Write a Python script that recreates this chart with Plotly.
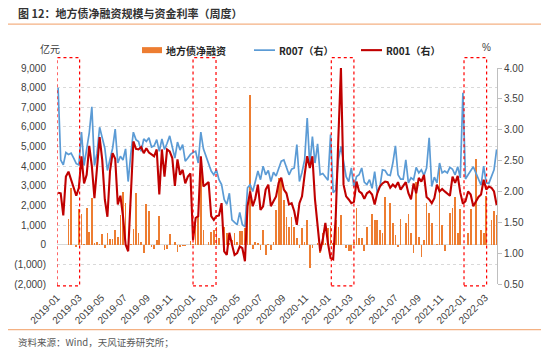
import pandas as pd
import plotly.graph_objects as go

# ---------------- data ----------------
start_date = "2019-01-04"   # weekly observations

net_financing = [  # 地方债净融资, 亿元
    0, 0, 0, 0, 1290, 2870, 0, -100, 1800, 1560,
    30, 1850, 660, 2360, 70, 150, 20, 540, -190, 580,
    300, 290, 750, 410, 1510, 2700, 2140, -70, 20, 780,
    2610, 610, 150, -400, 2070, 1730, -100, -200, 240, 1460,
    0, -270, -240, 540, -30, 150, -360, -100, -70, -70,
    -30, 200, 30, 1260, 1430, 4300, 750, 0, 150, 660,
    750, 900, 330, 0, 920, 610, 70, 240, 580, 150,
    680, 720, 830, 2200, 7600, -240, 150, 70, -270, 750,
    -530, 20, -270, 150, 1770, 3380, 3380, 2290, 1430, 920,
    1430, 920, 320, -190, 830, 150, 1260, -1210, -190, 0,
    100, -440, 580, 70, 830, 950, 100, 1260, 920, 1510,
    0, -190, -300, -300, 150, 1850, 320, 320, -300, 920,
    0, 1560, 1260, 1260, 750, 580, 2420, 0, 2100, 1090,
    490, -100, 1290, 0, 1090, 1560, 580, -440, 3210, 400,
    -650, 240, 2140, 1630, 1090, 0, 60, 3890, 1000, -300,
    0, 1600, 1850, 2440, 580, 1800, 0, 0, 580, 1800,
    0, 4350, 0, 750, 600, 2480, 0, 1250, 1700, 1500,
]

r007 = [  # %
    3.68, 2.51, 2.43, 2.63, 2.60, 2.62, 2.54, 2.45, 2.43, 2.96,
    2.42, 2.68, 2.95, 3.37, 2.42, 2.62, 3.04, 2.87, 2.70, 2.34,
    2.54, 2.70, 3.01, 2.46, 2.57, 2.51, 2.69, 2.16, 2.60, 2.96,
    2.84, 2.81, 2.65, 2.85, 2.81, 2.87, 2.72, 2.74, 2.84, 2.65,
    2.85, 2.68, 2.78, 2.90, 2.72, 2.54, 2.80, 2.67, 2.76, 2.49,
    2.54, 2.60, 2.63, 2.65, 2.46, 2.96, 2.69, 2.57, 2.46, 2.33,
    2.27, 2.35, 2.19, 2.11, 1.87, 1.79, 1.97, 1.54, 1.50, 1.46,
    1.66, 1.46, 1.43, 2.06, 2.11, 2.00, 2.16, 2.33, 2.19, 2.41,
    2.27, 2.34, 2.16, 2.31, 2.25, 2.38, 2.49, 2.51, 2.38, 2.27,
    2.36, 2.38, 2.76, 2.16, 2.31, 2.51, 3.19, 2.41, 2.89, 2.46,
    2.77, 2.27, 2.29, 2.24, 2.18, 2.92, 1.98, 2.02, 2.51, 2.73,
    2.51, 2.24, 2.16, 2.38, 2.07, 2.24, 2.27, 2.38, 2.15, 2.11,
    2.19, 2.05, 2.32, 1.98, 2.07, 2.35, 2.34, 2.27, 2.26, 2.46,
    2.74, 2.27, 2.20, 2.20, 2.51, 2.14, 2.22, 2.19, 2.39, 2.30,
    2.35, 2.26, 2.38, 2.87, 2.08, 2.23, 2.14, 2.46, 2.30, 2.33,
    2.30, 2.39, 2.36, 2.27, 2.40, 2.22, 3.60, 2.20, 2.27, 2.33,
    2.40, 2.30, 2.19, 2.10, 2.41, 2.14, 2.13, 2.25, 2.35, 2.68,
]

r001 = [  # %
    1.98, 1.97, 1.61, 2.24, 2.32, 2.19, 2.08, 1.93, 2.06, 2.57,
    2.13, 2.27, 2.74, 2.41, 1.89, 2.43, 2.88, 2.51, 1.87, 1.59,
    2.33, 2.62, 2.53, 1.79, 1.93, 1.60, 1.14, 1.03, 1.87, 2.81,
    2.69, 2.68, 2.72, 2.62, 2.70, 2.63, 2.60, 2.57, 2.68, 1.95,
    2.68, 2.24, 2.68, 2.65, 2.54, 2.09, 2.52, 2.27, 2.35, 2.13,
    2.24, 2.29, 1.21, 1.57, 1.60, 2.57, 2.08, 2.11, 2.15, 1.60,
    1.54, 1.60, 1.61, 1.81, 1.03, 0.97, 1.33, 1.14, 0.97, 1.00,
    1.11, 1.08, 0.87, 1.76, 2.00, 1.76, 1.89, 2.11, 1.70, 1.76,
    2.03, 2.11, 1.76, 1.84, 1.92, 2.14, 2.22, 2.03, 1.97, 1.79,
    1.81, 1.68, 1.46, 1.81, 1.92, 2.27, 2.57, 2.38, 2.57, 1.87,
    1.43, 1.03, 1.22, 1.49, 1.16, 0.92, 0.90, 1.59, 2.86, 4.00,
    2.11, 1.92, 1.87, 1.81, 1.83, 2.16, 2.00, 1.97, 1.88, 1.97,
    2.00, 1.95, 1.79, 1.97, 2.08, 2.13, 2.16, 2.15, 2.06, 2.11,
    2.07, 2.15, 2.03, 2.09, 2.15, 1.97, 1.87, 2.13, 1.97, 2.22,
    2.16, 2.27, 1.91, 1.87, 1.81, 1.89, 2.11, 2.00, 2.04, 2.00,
    1.97, 1.93, 2.24, 2.14, 2.25, 1.98, 1.80, 1.84, 2.00, 1.95,
    1.76, 1.84, 1.91, 1.95, 2.19, 2.03, 2.08, 2.06, 2.00, 1.78,
]

x_tick_dates = [
    "2019-01-01", "2019-03-01", "2019-05-01", "2019-07-01", "2019-09-01", "2019-11-01",
    "2020-01-01", "2020-03-01", "2020-05-01", "2020-07-01", "2020-09-01", "2020-11-01",
    "2021-01-01", "2021-03-01", "2021-05-01", "2021-07-01", "2021-09-01", "2021-11-01",
    "2022-01-01", "2022-03-01",
]
x_tick_labels = [d[:7] for d in x_tick_dates]

left_ticks = [-2000, -1000, 0, 1000, 2000, 3000, 4000, 5000, 6000, 7000, 8000, 9000]
left_labels = ["(2,000)", "(1,000)", "0", "1,000", "2,000", "3,000", "4,000",
               "5,000", "6,000", "7,000", "8,000", "9,000"]
right_ticks = [0.5, 1.0, 1.5, 2.0, 2.5, 3.0, 3.5, 4.0]

highlight_periods = [
    ("2019-01-01", "2019-03-03"),
    ("2020-01-03", "2020-03-05"),
    ("2021-01-10", "2021-03-12"),
    ("2022-01-03", "2022-03-05"),
]

# ---------------- figure ----------------
dates = pd.date_range(start_date, periods=len(net_financing), freq="7D")

W, H = 550, 355
L, R, T, B = 57, 497, 68.3, 283.6
PW, PH = R - L, B - T


def px(x):
    return (x - L) / PW


def py(y):
    return (B - y) / PH


FONT = "Liberation Sans, Arial, Noto Sans CJK SC, sans-serif"
CJK = "Noto Sans CJK SC, Liberation Sans, sans-serif"
TXT = "#404040"

fig = go.Figure()
fig.add_trace(go.Bar(
    x=dates, y=net_financing, name="地方债净融资",
    marker=dict(color="#ED7D31", line=dict(width=0)),
    width=4.6 * 86400000, yaxis="y",
))
fig.add_trace(go.Scatter(
    x=dates, y=r007, name="R007（右）", mode="lines",
    line=dict(color="#5B9BD5", width=1.7), yaxis="y2",
))
fig.add_trace(go.Scatter(
    x=dates, y=r001, name="R001（右）", mode="lines",
    line=dict(color="#C00000", width=2.1), yaxis="y2",
))

shapes = []
for a, b in highlight_periods:
    shapes.append(dict(type="rect", xref="x", yref="paper", x0=a, x1=b,
                       y0=py(285.5), y1=py(58), line=dict(color="#FF0000", width=1.2, dash="dot"),
                       fillcolor="rgba(0,0,0,0)", layer="above"))
# header / footer rules
for yy in (24.5, 329):
    shapes.append(dict(type="line", xref="paper", yref="paper", x0=px(8), x1=px(541),
                       y0=py(yy), y1=py(yy), line=dict(color="#F4B183", width=1.3)))
# legend symbols
shapes.append(dict(type="rect", xref="paper", yref="paper", x0=px(142), x1=px(162),
                   y0=py(53.5), y1=py(47.5), fillcolor="#ED7D31", line=dict(width=0)))
shapes.append(dict(type="line", xref="paper", yref="paper", x0=px(254), x1=px(275),
                   y0=py(50.5), y1=py(50.5), line=dict(color="#5B9BD5", width=1.7)))
shapes.append(dict(type="line", xref="paper", yref="paper", x0=px(361), x1=px(382),
                   y0=py(50.5), y1=py(50.5), line=dict(color="#C00000", width=2.1)))

annotations = [
    dict(text="<b>图 12：地方债净融资规模与资金利率（周度）</b>", x=px(16), y=py(13.5),
         xanchor="left", yanchor="middle", font=dict(size=11, color="#333333", family=CJK)),
    dict(text="资料来源：Wind，天风证券研究所；", x=px(16), y=py(341),
         xanchor="left", yanchor="middle", font=dict(size=9.5, color="#595959", family=CJK)),
    dict(text="亿元", x=px(50), y=py(49), xanchor="center", yanchor="middle",
         font=dict(size=10, color=TXT, family=CJK)),
    dict(text="%", x=px(486), y=py(48), xanchor="center", yanchor="middle",
         font=dict(size=10, color=TXT, family=FONT)),
    dict(text="<b>地方债净融资</b>", x=px(164), y=py(50.5), xanchor="left", yanchor="middle",
         font=dict(size=10, color="#262626", family=CJK)),
    dict(text="<b>R007（右）</b>", x=px(277), y=py(50.5), xanchor="left", yanchor="middle",
         font=dict(size=10, color="#262626", family=CJK)),
    dict(text="<b>R001（右）</b>", x=px(384), y=py(50.5), xanchor="left", yanchor="middle",
         font=dict(size=10, color="#262626", family=CJK)),
]
for an in annotations:
    an.update(xref="paper", yref="paper", showarrow=False)

fig.update_layout(
    width=W, height=H,
    margin=dict(l=L, r=W - R, t=T, b=H - B, pad=0),
    paper_bgcolor="white", plot_bgcolor="white",
    showlegend=False, bargap=0,
    font=dict(family=FONT, size=10, color=TXT),
    xaxis=dict(
        type="date", range=["2019-01-01", "2022-04-02"],
        tickmode="array", tickvals=x_tick_dates, ticktext=x_tick_labels,
        tickangle=-45, showgrid=False, showline=False, zeroline=False,
        ticks="outside", ticklen=3, tickcolor="rgba(0,0,0,0)",
        tickfont=dict(size=10, color=TXT, family=FONT),
    ),
    yaxis=dict(
        range=[-2000, 9000], tickmode="array", tickvals=left_ticks, ticktext=left_labels,
        showgrid=True, gridcolor="#D9D9D9", griddash="dot", gridwidth=1,
        zeroline=True, zerolinecolor="#D9D9D9", zerolinewidth=1,
        showline=False, ticks="outside", ticklen=8, tickcolor="rgba(0,0,0,0)",
        tickfont=dict(size=10, color=TXT, family=FONT),
    ),
    yaxis2=dict(
        range=[0.5, 4.0], overlaying="y", side="right", anchor="x",
        tickmode="array", tickvals=right_ticks, tickformat=".2f",
        showgrid=False, zeroline=False,
        showline=True, linecolor="#BFBFBF", linewidth=1,
        ticks="outside", ticklen=4, tickcolor="#BFBFBF",
        tickfont=dict(size=10, color=TXT, family=FONT),
    ),
    shapes=shapes, annotations=annotations,
)

fig.write_html(
    "out.html",
    config={"displayModeBar": False, "staticPlot": True},
    post_script="document.body.style.margin='0';document.body.style.padding='0';",
)
